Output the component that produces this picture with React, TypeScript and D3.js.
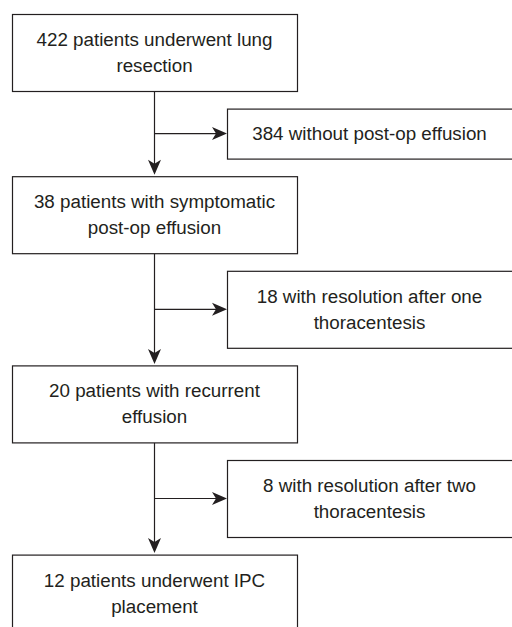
import { useEffect, useRef } from 'react';
import * as d3 from 'd3';

// Flow steps (main column) and the exits branching off to the right
const mainSteps: string[][] = [
  ['422 patients underwent lung', 'resection'],
  ['38 patients with symptomatic', 'post-op effusion'],
  ['20 patients with recurrent', 'effusion'],
  ['12 patients underwent IPC', 'placement'],
];

const exitSteps: string[][] = [
  ['384 without post-op effusion'],
  ['18 with resolution after one', 'thoracentesis'],
  ['8 with resolution after two', 'thoracentesis'],
];

export default function App() {
  const svgRef = useRef<SVGSVGElement>(null);

  useEffect(() => {
    const width = 512;
    const height = 627;
    const ink = '#231f20';
    const fontSize = 18.8;
    const lineGap = 26;
    const gap = 17.6;

    const svg = d3.select(svgRef.current)
      .attr('width', width)
      .attr('height', height);
    svg.selectAll('*').remove();

    // Box geometry
    const mainX = 12;
    const mainW = 285;
    const sideX = 227;
    const sideW = 290;
    const boxH = (lines: number) => (lines > 1 ? 77 : 50);
    const spineX = mainX + mainW / 2;

    // Stack the boxes vertically: main, exit, main, exit, ...
    type Node = { lines: string[]; x: number; w: number; y: number; h: number; side: boolean };
    const nodes: Node[] = [];
    let y = 14;
    mainSteps.forEach((lines, i) => {
      const h = boxH(lines.length);
      nodes.push({ lines, x: mainX, w: mainW, y, h, side: false });
      y += h + gap;
      if (i < exitSteps.length) {
        const sh = boxH(exitSteps[i].length);
        nodes.push({ lines: exitSteps[i], x: sideX, w: sideW, y, h: sh, side: true });
        y += sh + gap;
      }
    });

    // Arrowhead (notched)
    const head = (g: d3.Selection<SVGGElement, unknown, null, undefined>, x: number, yy: number, angle: number) => {
      g.append('path')
        .attr('d', 'M0,0 L-15,-6.5 L-11,0 L-15,6.5 Z')
        .attr('transform', `translate(${x},${yy}) rotate(${angle})`)
        .attr('fill', ink);
    };

    const links = svg.append('g');
    const mains = nodes.filter(n => !n.side);
    const sides = nodes.filter(n => n.side);

    mains.slice(0, -1).forEach((n, i) => {
      const next = mains[i + 1];
      const side = sides[i];
      const y0 = n.y + n.h;
      const y1 = next.y - 1.5;
      links.append('line')
        .attr('x1', spineX).attr('x2', spineX)
        .attr('y1', y0).attr('y2', y1 - 10)
        .attr('stroke', ink).attr('stroke-width', 1.2);
      head(links, spineX, y1, 90);

      const ym = side.y + side.h / 2;
      links.append('line')
        .attr('x1', spineX).attr('x2', side.x - 10)
        .attr('y1', ym).attr('y2', ym)
        .attr('stroke', ink).attr('stroke-width', 1.2);
      head(links, side.x, ym, 0);
    });

    // Boxes
    const box = svg.append('g')
      .selectAll('g')
      .data(nodes)
      .enter()
      .append('g');

    box.append('rect')
      .attr('x', d => d.x + 0.5)
      .attr('y', d => d.y + 0.5)
      .attr('width', d => d.w)
      .attr('height', d => d.h)
      .attr('fill', 'white')
      .attr('stroke', ink)
      .attr('stroke-width', 1.2);

    box.each(function (d) {
      const cx = d.x + (d.side ? (width - d.x) / 2 : d.w / 2);
      const cy = d.y + d.h / 2;
      const first = cy - ((d.lines.length - 1) * lineGap) / 2 + fontSize * 0.35;
      d3.select(this).selectAll('text')
        .data(d.lines)
        .enter()
        .append('text')
        .attr('x', cx)
        .attr('y', (_, i) => first + i * lineGap)
        .attr('text-anchor', 'middle')
        .attr('font-family', '"Liberation Sans", Arial, sans-serif')
        .attr('font-size', fontSize)
        .attr('fill', ink)
        .text(t => t);
    });
  }, []);

  return (
    <svg
      ref={svgRef}
      style={{ position: 'absolute', left: 0, top: 0, background: 'white' }}
    />
  );
}
